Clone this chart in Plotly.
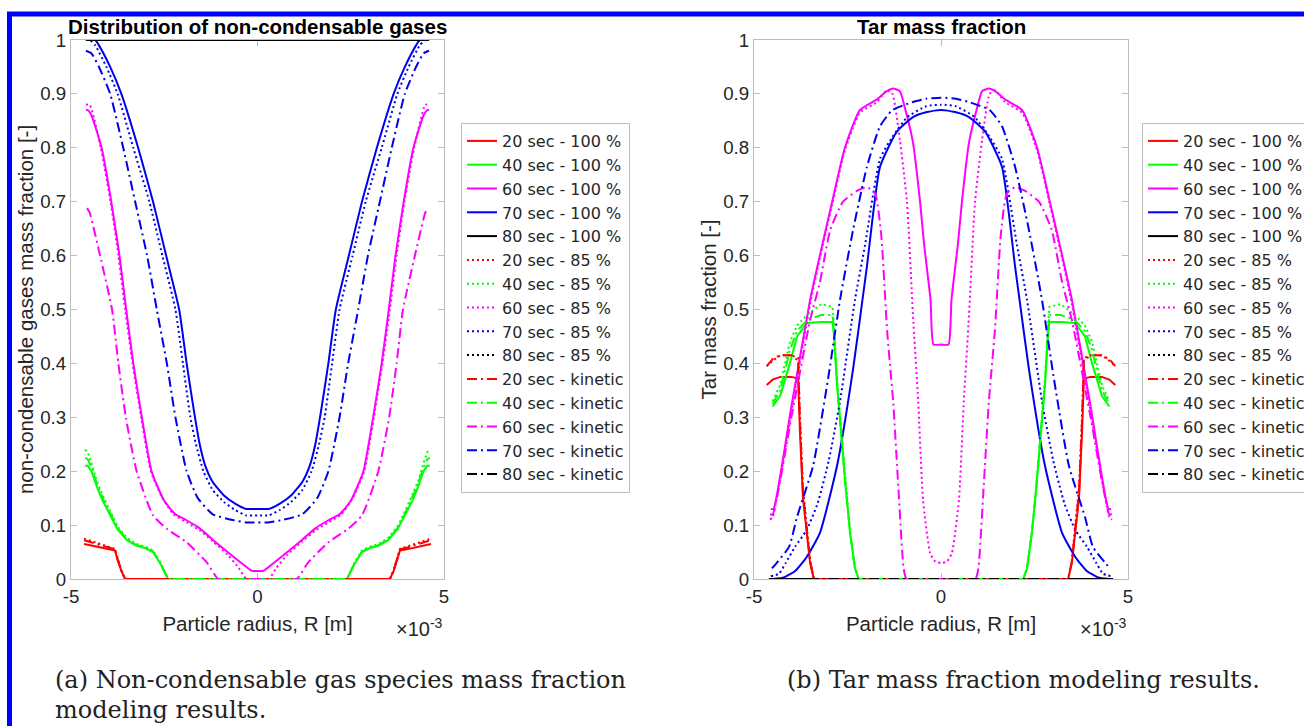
import plotly.graph_objects as go

W, H = 1304, 726

# ---------------------------------------------------------------------------
# Half profiles (radius in units of 1e-3 m, from the particle centre outward).
# Each profile is mirrored to give the full particle cross-section.
# ---------------------------------------------------------------------------

# Non-condensable gases mass fraction
gas_r20 = [0, 3.55, 3.65, 3.75, 3.82, 4.0, 4.2, 4.45, 4.65]
gas_20_full = [0, 0, 0.015, 0.035, 0.053, 0.055, 0.058, 0.062, 0.065]
gas_20_part = [0, 0, 0.016, 0.038, 0.056, 0.06, 0.065, 0.07, 0.075]
gas_20_kin = [0, 0, 0.016, 0.037, 0.055, 0.058, 0.062, 0.068, 0.072]

gas_r40 = [0, 2.4, 2.6, 2.8, 3.0, 3.25, 3.5, 3.75, 3.95, 4.15, 4.3, 4.45, 4.55, 4.62]
gas_40_full = [0, 0, 0.028, 0.05, 0.057, 0.062, 0.072, 0.092, 0.118, 0.145, 0.17, 0.2, 0.21, 0.21]
gas_40_part = [0, 0, 0.03, 0.053, 0.06, 0.065, 0.076, 0.097, 0.125, 0.155, 0.18, 0.215, 0.235, 0.24]
gas_40_kin = [0, 0, 0.029, 0.051, 0.058, 0.063, 0.074, 0.094, 0.121, 0.15, 0.175, 0.207, 0.222, 0.225]

gas_r60_full = [0, 0.15, 0.35, 0.8, 1.2, 1.55, 1.9, 2.2, 2.5, 2.84, 3.1, 3.33, 3.52, 3.7, 3.92, 4.18, 4.45, 4.55, 4.6]
gas_60_full = [0.015, 0.015, 0.025, 0.05, 0.073, 0.094, 0.109, 0.12, 0.145, 0.2, 0.3, 0.4, 0.5, 0.6, 0.7, 0.8, 0.86, 0.87, 0.87]
gas_r60_part = [0, 0.3, 0.5, 0.8, 1.2, 1.55, 1.9, 2.25, 2.55, 2.86, 3.12, 3.35, 3.55, 3.73, 3.94, 4.2, 4.5, 4.6]
gas_60_part = [0, 0, 0.02, 0.045, 0.07, 0.09, 0.105, 0.12, 0.15, 0.2, 0.3, 0.4, 0.5, 0.6, 0.7, 0.8, 0.88, 0.88]
gas_r60_kin = [0, 1.05, 1.35, 1.9, 2.43, 2.8, 3.24, 3.53, 3.73, 3.9, 4.22, 4.5, 4.57]
gas_60_kin = [0, 0, 0.03, 0.068, 0.093, 0.118, 0.2, 0.3, 0.4, 0.5, 0.6, 0.68, 0.688]

gas_r70_full = [0, 0.3, 0.6, 0.9, 1.2, 1.4, 1.55, 1.7, 1.9, 2.1, 2.45, 2.8, 3.2, 3.65, 3.95, 4.25, 4.35, 4.6]
gas_70_full = [0.13, 0.13, 0.14, 0.155, 0.18, 0.21, 0.25, 0.31, 0.4, 0.5, 0.6, 0.7, 0.8, 0.9, 0.95, 0.99, 1.0, 1.0]
gas_r70_part = [0, 0.3, 0.6, 0.9, 1.2, 1.45, 1.65, 1.8, 2.0, 2.2, 2.55, 2.9, 3.33, 3.75, 4.05, 4.35, 4.5, 4.6]
gas_70_part = [0.118, 0.118, 0.128, 0.143, 0.165, 0.2, 0.25, 0.3, 0.4, 0.5, 0.6, 0.7, 0.8, 0.9, 0.95, 0.99, 1.0, 1.0]
gas_r70_kin = [0, 0.3, 0.7, 1.2, 1.6, 1.9, 2.2, 2.43, 2.7, 2.96, 3.28, 3.6, 3.95, 4.25, 4.45, 4.6]
gas_70_kin = [0.105, 0.105, 0.11, 0.12, 0.15, 0.2, 0.3, 0.4, 0.5, 0.6, 0.7, 0.8, 0.9, 0.95, 0.975, 0.98]

gas_r80 = [0, 4.6]
gas_80 = [1.0, 1.0]

# Tar mass fraction
tar_r20 = [0, 3.4, 3.5, 3.6, 3.69, 3.77, 3.82, 4.0, 4.3, 4.5, 4.66]
tar_20_full = [0, 0, 0.03, 0.09, 0.15, 0.27, 0.372, 0.375, 0.375, 0.37, 0.36]
tar_20_part = [0, 0, 0.035, 0.1, 0.17, 0.3, 0.41, 0.415, 0.415, 0.405, 0.395]
tar_20_kin = [0, 0, 0.033, 0.095, 0.16, 0.29, 0.405, 0.415, 0.415, 0.408, 0.395]

tar_r40 = [0, 2.2, 2.3, 2.43, 2.55, 2.65, 2.78, 2.86, 2.9, 3.2, 3.58, 3.85, 4.04, 4.3, 4.5]
tar_40_full = [0, 0, 0.02, 0.085, 0.17, 0.25, 0.36, 0.45, 0.477, 0.477, 0.475, 0.45, 0.40, 0.34, 0.32]
tar_40_part = [0, 0, 0.02, 0.087, 0.175, 0.26, 0.37, 0.47, 0.505, 0.51, 0.49, 0.47, 0.44, 0.36, 0.33]
tar_40_kin = [0, 0, 0.02, 0.086, 0.172, 0.255, 0.365, 0.46, 0.49, 0.49, 0.48, 0.46, 0.425, 0.35, 0.325]

tar_r60_full = [0, 0.2, 0.28, 0.45, 0.56, 0.75, 0.95, 1.1, 1.28, 1.45, 1.71, 2.17, 2.57, 2.91, 3.24, 3.5, 4.0, 4.48, 4.55]
tar_60_full = [0.435, 0.435, 0.518, 0.62, 0.70, 0.81, 0.87, 0.905, 0.91, 0.905, 0.89, 0.87, 0.80, 0.70, 0.60, 0.518, 0.32, 0.13, 0.13]
tar_r60_part = [0, 0.15, 0.29, 0.48, 0.61, 0.75, 0.91, 1.1, 1.3, 1.45, 1.71, 2.17, 2.57, 2.91, 3.24, 3.5, 4.0, 4.5, 4.57]
tar_60_part = [0.03, 0.032, 0.048, 0.147, 0.33, 0.49, 0.70, 0.815, 0.9, 0.907, 0.885, 0.865, 0.795, 0.695, 0.595, 0.51, 0.31, 0.115, 0.11]
tar_r60_kin = [0, 0.92, 1.0, 1.14, 1.28, 1.44, 1.6, 1.76, 1.98, 2.25, 2.62, 2.96, 3.24, 3.5, 4.0, 4.5, 4.57]
tar_60_kin = [0, 0, 0.02, 0.17, 0.33, 0.46, 0.64, 0.715, 0.727, 0.72, 0.70, 0.648, 0.55, 0.48, 0.30, 0.12, 0.12]

tar_r70_full = [0, 0.4, 0.75, 1.18, 1.63, 1.98, 2.1, 2.35, 2.78, 3.24, 3.6, 3.9, 4.2, 4.5]
tar_70_full = [0.87, 0.866, 0.857, 0.83, 0.765, 0.58, 0.518, 0.39, 0.21, 0.085, 0.04, 0.015, 0.003, 0.0]
tar_r70_part = [0, 0.4, 0.9, 1.3, 1.63, 2.03, 2.3, 2.7, 3.0, 3.3, 3.6, 3.9, 4.15, 4.33, 4.55]
tar_70_part = [0.88, 0.877, 0.857, 0.82, 0.78, 0.62, 0.518, 0.33, 0.22, 0.14, 0.09, 0.06, 0.03, 0.01, 0.005]
tar_r70_kin = [0, 0.4, 0.75, 1.3, 1.63, 1.98, 2.35, 2.7, 3.0, 3.42, 3.85, 4.06, 4.39, 4.52]
tar_70_kin = [0.893, 0.891, 0.885, 0.87, 0.84, 0.765, 0.648, 0.518, 0.38, 0.21, 0.115, 0.06, 0.03, 0.02]

tar_r80 = [0, 4.6]
tar_80 = [0.0, 0.0]

# Legend / styling tables
times = [20, 40, 60, 70, 80]
cases = ["100 %", "85 %", "kinetic"]
time_colors = ["#FF0000", "#00FF00", "#FF00FF", "#0000F0", "#000000"]
case_dash = ["solid", "2px,3px", "10px,4px,2px,4px"]
# the smooth, slowly varying profiles are drawn as splines
smooth_times = [60, 70]

x_tick_vals = [-5, 0, 5]
x_tick_text = ["-5", "0", "5"]
y_tick_vals = [0, 0.1, 0.2, 0.3, 0.4, 0.5, 0.6, 0.7, 0.8, 0.9, 1.0]
y_tick_text = ["0", "0.1", "0.2", "0.3", "0.4", "0.5", "0.6", "0.7", "0.8", "0.9", "1"]

gas_profiles = {
    "100 %": [(gas_r20, gas_20_full), (gas_r40, gas_40_full), (gas_r60_full, gas_60_full),
              (gas_r70_full, gas_70_full), (gas_r80, gas_80)],
    "85 %": [(gas_r20, gas_20_part), (gas_r40, gas_40_part), (gas_r60_part, gas_60_part),
             (gas_r70_part, gas_70_part), (gas_r80, gas_80)],
    "kinetic": [(gas_r20, gas_20_kin), (gas_r40, gas_40_kin), (gas_r60_kin, gas_60_kin),
                (gas_r70_kin, gas_70_kin), (gas_r80, gas_80)],
}
tar_profiles = {
    "100 %": [(tar_r20, tar_20_full), (tar_r40, tar_40_full), (tar_r60_full, tar_60_full),
              (tar_r70_full, tar_70_full), (tar_r80, tar_80)],
    "85 %": [(tar_r20, tar_20_part), (tar_r40, tar_40_part), (tar_r60_part, tar_60_part),
             (tar_r70_part, tar_70_part), (tar_r80, tar_80)],
    "kinetic": [(tar_r20, tar_20_kin), (tar_r40, tar_40_kin), (tar_r60_kin, tar_60_kin),
                (tar_r70_kin, tar_70_kin), (tar_r80, tar_80)],
}


def mirror(r, v):
    """Full symmetric profile across the particle from a centre-outward half profile."""
    x = [-a for a in r[::-1]] + list(r[1:])
    y = list(v[::-1]) + list(v[1:])
    return x, y


def px_x(p):
    return p / W


def px_y(p):
    return 1 - p / H


fig = go.Figure()

for profiles, xa, ya, leg in [(gas_profiles, "x", "y", "legend"), (tar_profiles, "x2", "y2", "legend2")]:
    for ci, case in enumerate(cases):
        for ti, t in enumerate(times):
            r, v = profiles[case][ti]
            x, y = mirror(r, v)
            line = dict(color=time_colors[ti], width=2, dash=case_dash[ci])
            if t in smooth_times:
                line.update(shape="spline", smoothing=0.5)
            fig.add_trace(go.Scatter(
                x=x, y=y, mode="lines", xaxis=xa, yaxis=ya, legend=leg,
                name=f"{t} sec - {case}", line=line,
            ))

tick_font = dict(family="Liberation Sans, Arial, sans-serif", size=18.7, color="#262626")
label_font = dict(family="Liberation Sans, Arial, sans-serif", size=20.5, color="#262626")
axis_common = dict(
    showline=True, linecolor="#BDBDBD", linewidth=1.2, mirror="ticks",
    ticks="inside", ticklen=6, tickcolor="#BDBDBD", tickwidth=1.2,
    showgrid=False, zeroline=False, tickfont=tick_font, layer="below traces",
)

xd1 = [px_x(71), px_x(444)]
xd2 = [px_x(754), px_x(1128)]
yd = [px_y(579), px_y(40)]

legend_common = dict(
    xanchor="left", yanchor="top", bgcolor="white", bordercolor="#BDBDBD", borderwidth=1,
    font=dict(family="DejaVu Sans, sans-serif", size=16, color="#262626"),
    tracegroupgap=0, itemwidth=30,
)

fig.update_layout(
    width=W, height=H,
    margin=dict(l=0, r=0, t=0, b=0, autoexpand=False),
    paper_bgcolor="white", plot_bgcolor="white",
    xaxis=dict(domain=xd1, anchor="y", range=[-5, 5], tickvals=x_tick_vals, ticktext=x_tick_text,
               title=dict(text="Particle radius, R [m]", font=label_font, standoff=11), **axis_common),
    yaxis=dict(domain=yd, anchor="x", range=[0, 1], tickvals=y_tick_vals, ticktext=y_tick_text,
               title=dict(text="non-condensable gases mass fraction [-]", font=label_font, standoff=1),
               **axis_common),
    xaxis2=dict(domain=xd2, anchor="y2", range=[-5, 5], tickvals=x_tick_vals, ticktext=x_tick_text,
                title=dict(text="Particle radius, R [m]", font=label_font, standoff=11), **axis_common),
    yaxis2=dict(domain=yd, anchor="x2", range=[0, 1], tickvals=y_tick_vals, ticktext=y_tick_text,
                title=dict(text="Tar mass fraction [-]", font=label_font, standoff=1), **axis_common),
    legend=dict(x=px_x(461), y=px_y(123), **legend_common),
    legend2=dict(x=px_x(1142), y=px_y(123), **legend_common),
    showlegend=True,
)

title_font = dict(family="Liberation Sans, Arial, sans-serif", size=20.5, color="#000000")
caption_font = dict(family="DejaVu Serif, serif", size=24, color="#222222")
sci_font = dict(family="Liberation Sans, Arial, sans-serif", size=20, color="#262626")

annotations = [
    dict(text="<b>Distribution of non-condensable gases</b>", x=px_x(257.5), y=px_y(27),
         xanchor="center", yanchor="middle", font=title_font),
    dict(text="<b>Tar mass fraction</b>", x=px_x(941), y=px_y(27),
         xanchor="center", yanchor="middle", font=title_font),
    dict(text="×10<sup>-3</sup>", x=px_x(445), y=px_y(627),
         xanchor="right", yanchor="middle", font=sci_font),
    dict(text="×10<sup>-3</sup>", x=px_x(1129), y=px_y(627),
         xanchor="right", yanchor="middle", font=sci_font),
    dict(text="(a) Non-condensable gas species mass fraction", x=px_x(53), y=px_y(680),
         xanchor="left", yanchor="middle", font=caption_font),
    dict(text="modeling results.", x=px_x(53), y=px_y(710),
         xanchor="left", yanchor="middle", font=caption_font),
    dict(text="(b) Tar mass fraction modeling results.", x=px_x(785), y=px_y(680),
         xanchor="left", yanchor="middle", font=caption_font),
]
for a in annotations:
    a.update(xref="paper", yref="paper", showarrow=False)
fig.update_layout(annotations=annotations)

# Blue page frame along the top and left edges
fig.add_shape(type="rect", xref="paper", yref="paper",
              x0=px_x(9.5), x1=1.05, y0=-0.05, y1=px_y(14),
              line=dict(color="#0000FF", width=5), fillcolor="rgba(0,0,0,0)", layer="above")

fig.write_html("out.html")
